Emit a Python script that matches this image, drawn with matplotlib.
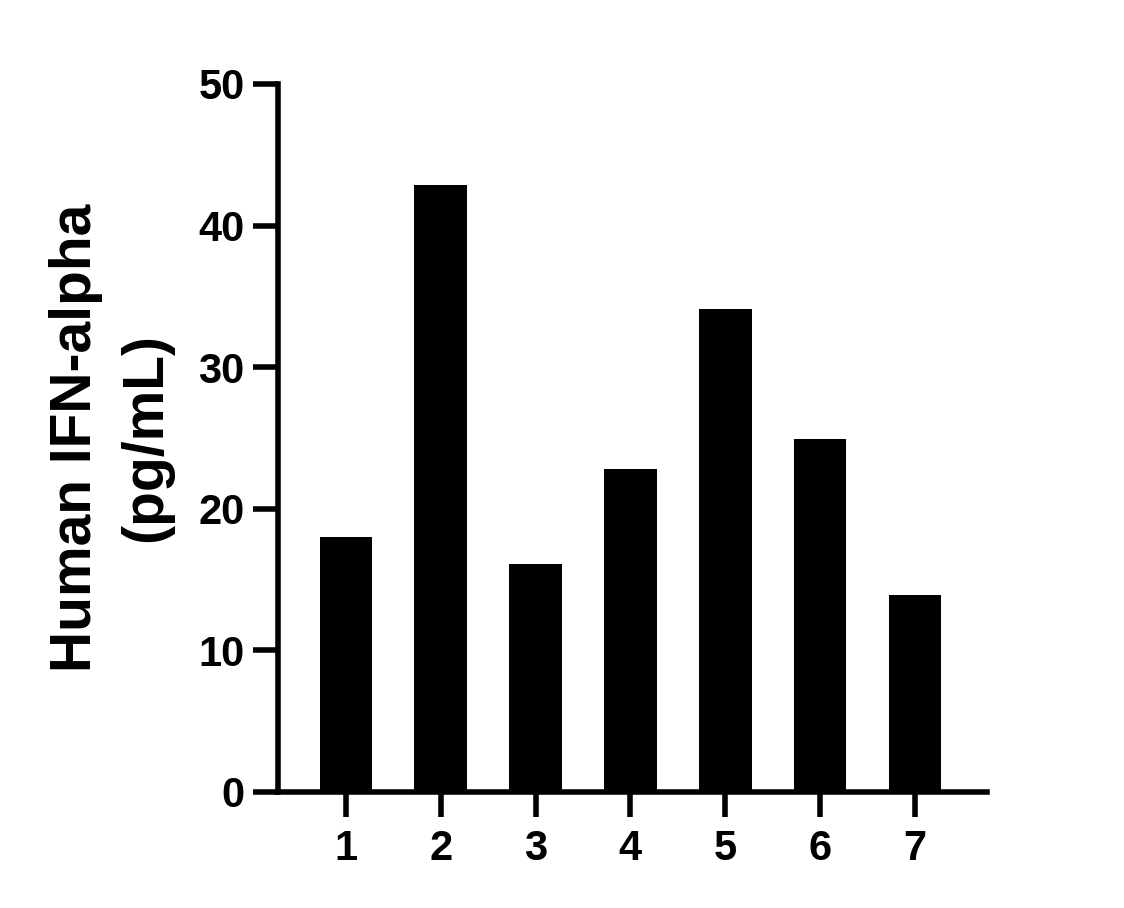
import numpy as np
import matplotlib
matplotlib.use("Agg")
from matplotlib import pyplot as plt

# data
samples = ["1", "2", "3", "4", "5", "6", "7"]
ifn_alpha = [18.0, 42.9, 16.1, 22.8, 34.1, 24.9, 13.9]
y_ticks = [0, 10, 20, 30, 40, 50]

plt.rcParams['font.family'] = ['Liberation Sans', 'DejaVu Sans']
plt.rcParams['font.weight'] = 'bold'

fig = plt.figure(figsize=(11.24, 9.08), dpi=100)
ax = fig.add_axes([0.2473, 0.1278, 0.6308, 0.7797])

x = np.arange(1, len(samples) + 1)
ax.bar(x, ifn_alpha, width=0.555, color='black', edgecolor='none')

ax.set_xlim(0.283, 7.76)
ax.set_ylim(0, 50)
ax.set_xticks(x)
ax.set_xticklabels(samples)
ax.set_yticks(y_ticks)

for s in ['top', 'right']:
    ax.spines[s].set_visible(False)
for s in ['left', 'bottom']:
    ax.spines[s].set_linewidth(4)
    ax.spines[s].set_capstyle('projecting')

ax.tick_params(axis='both', width=4, length=18, labelsize=30, colors='black')
ax.tick_params(axis='x', pad=9)
ax.tick_params(axis='y', pad=6)
for lab in ax.get_xticklabels() + ax.get_yticklabels():
    lab.set_fontweight('bold')

ax.set_ylabel("Human IFN-alpha\n(pg/mL)", fontsize=41, fontweight='bold',
              linespacing=1.4, labelpad=18)

fig.savefig("out.png", dpi=100)
